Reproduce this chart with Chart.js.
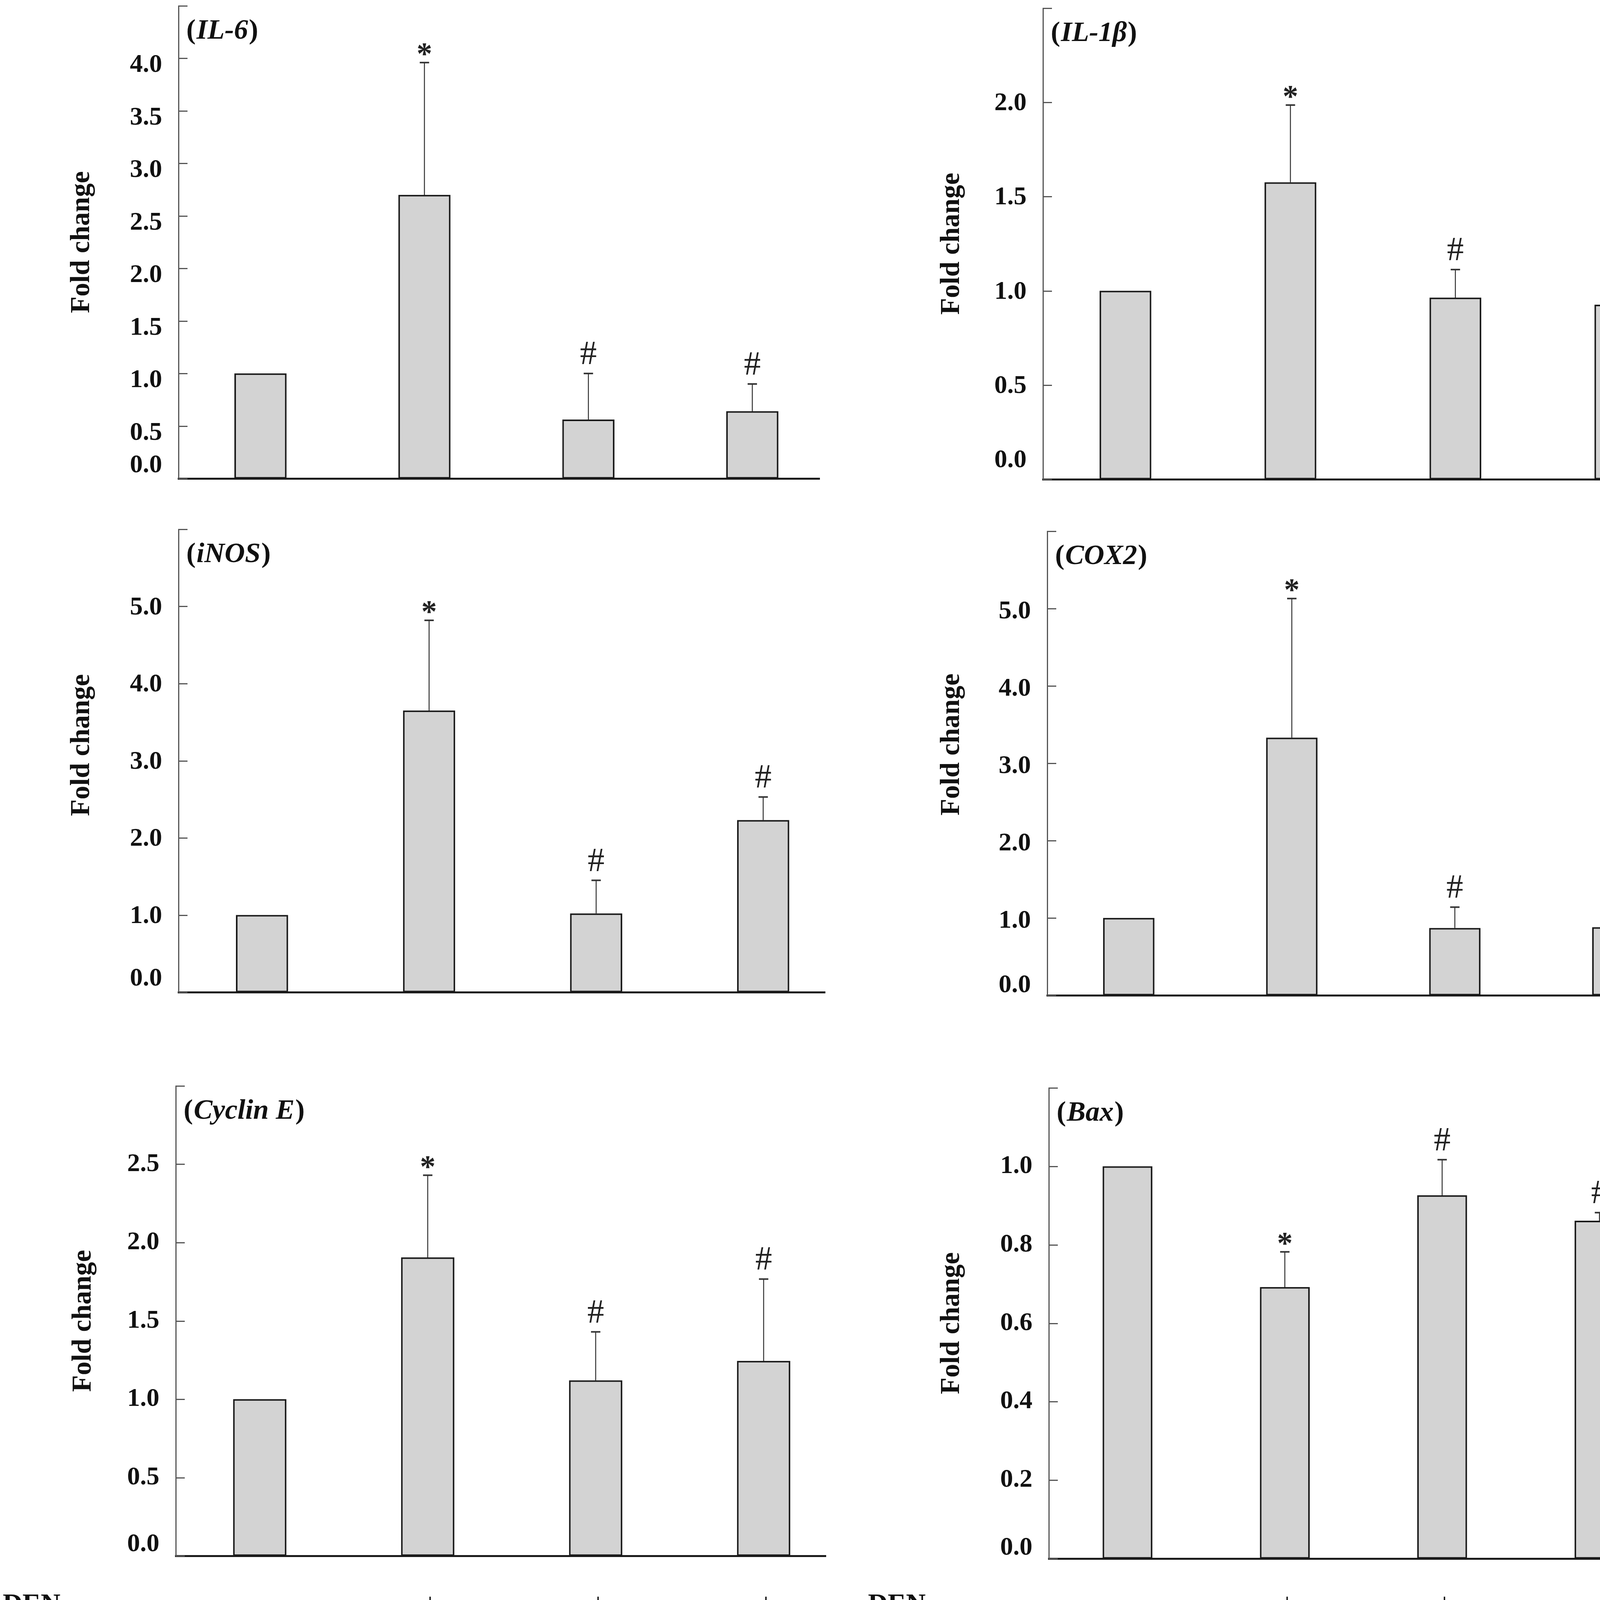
<!DOCTYPE html>
<html><head><meta charset="utf-8">
<script src="https://cdn.jsdelivr.net/npm/chart.js@4.4.1/dist/chart.umd.min.js"></script>
<style>
html,body{margin:0;padding:0;background:#fff;}
#wrap{position:relative;width:4317px;height:4628px;overflow:hidden;}
canvas{position:absolute;display:block;}
</style></head><body>
<div id="wrap">
<canvas id="c1"></canvas><canvas id="c2"></canvas>
<canvas id="c3"></canvas><canvas id="c4"></canvas>
<canvas id="c5"></canvas><canvas id="c6"></canvas>
</div>
<script>
// ---- data ----
const categories = ['Control', 'DEN', 'DEN + CRE', 'DEN + RRE'];
const il6Mean     = [1.00, 2.70, 0.56, 0.64];
const il6Upper    = [null, 3.96, 1.00, 0.90];
const il1bMean    = [1.00, 1.576, 0.964, 0.926];
const il1bUpper   = [null, 1.986, 1.113, 0.986];
const inosMean    = [1.00, 3.65, 1.02, 2.23];
const inosUpper   = [null, 4.82, 1.45, 2.53];
const cox2Mean    = [1.00, 3.33, 0.87, 0.88];
const cox2Upper   = [null, 5.13, 1.14, 1.17];
const cyclinEMean = [1.00, 1.905, 1.12, 1.244];
const cyclinEUpper= [null, 2.43, 1.43, 1.767];
const baxMean     = [1.00, 0.692, 0.926, 0.861];
const baxUpper    = [null, 0.782, 1.017, 0.882];
const sigMarks    = ['', '*', '#', '#'];
const denRow = ['\u2013', '+', '+', '+'];
const creRow = ['\u2013', '\u2013', '500', '\u2013'];
const rreRow = ['\u2013', '\u2013', '\u2013', '500'];
const tableRows = [
  {label: ['DEN'], vals: denRow},
  {label: ['CRE', '(mg/kg BW)'], vals: creRow},
  {label: ['RRE', '(mg/kg BW)'], vals: rreRow}
];

// ---- layout / style ----
const FONT = '"Liberation Serif", "Times New Roman", serif';
const tableBaselines = [[4128], [4306, 4398], [4523, 4615]];
const panels = [
  {id:'c1', gene:'IL-6', mean:il6Mean, upper:il6Upper, max:4.5, step:0.5, xMax:3.41, barW:133,
   box:{x:0,y:0,w:2158,h:1300}, pad:{left:457,top:15,right:60,bottom:75},
   labelShift:18, zeroShift:-33, ylabDy:0, labelX:228},
  {id:'c2', gene:'IL-1\u03b2', mean:il1bMean, upper:il1bUpper, max:2.5, step:0.5, xMax:3.40, barW:132,
   box:{x:2158,y:0,w:2159,h:1300}, pad:{left:512,top:21,right:0,bottom:73},
   labelShift:3, zeroShift:-48, ylabDy:0, labelX:297},
  {id:'c3', gene:'iNOS', mean:inosMean, upper:inosUpper, max:6, step:1, xMax:3.37, barW:133,
   box:{x:0,y:1300,w:2158,h:1300}, pad:{left:457,top:55,right:46,bottom:60},
   labelShift:3, zeroShift:-34, ylabDy:-40, labelX:228},
  {id:'c4', gene:'COX2', mean:cox2Mean, upper:cox2Upper, max:6, step:1, xMax:3.42, barW:131,
   box:{x:2158,y:1300,w:2159,h:1300}, pad:{left:523,top:60,right:0,bottom:52},
   labelShift:8, zeroShift:-25, ylabDy:-48, labelX:297},
  {id:'c5', gene:'Cyclin E', mean:cyclinEMean, upper:cyclinEUpper, max:3.0, step:0.5, xMax:3.37, barW:136,
   box:{x:0,y:2600,w:2158,h:2028}, pad:{left:450,top:180,right:44,bottom:645},
   labelShift:0, zeroShift:-29, ylabDy:0, labelX:232, table:true, tableLabelX:7},
  {id:'c6', gene:'Bax', mean:baxMean, upper:baxUpper, max:1.2, step:0.2, xMax:3.49, barW:127,
   box:{x:2158,y:2600,w:2159,h:2028}, pad:{left:527,top:185,right:25,bottom:638},
   labelShift:0, zeroShift:-27, ylabDy:0, labelX:297, table:true, tableLabelX:64}
];

function makeDecor(P) {
  return {
    id: 'decor_' + P.id,
    afterDraw(chart) {
      const ctx = chart.ctx, ys = chart.scales.y, ca = chart.chartArea;
      ctx.save();
      // inward tick marks
      ctx.strokeStyle = '#555'; ctx.lineWidth = 3;
      ys.ticks.forEach(t => {
        const y = Math.round(ys.getPixelForValue(t.value)) + 0.5;
        ctx.beginPath(); ctx.moveTo(ca.left, y); ctx.lineTo(ca.left + 23, y); ctx.stroke();
      });
      // tick labels
      ctx.fillStyle = '#111';
      ctx.font = 'bold 66px ' + FONT;
      ctx.textAlign = 'right'; ctx.textBaseline = 'middle';
      ys.ticks.forEach(t => {
        if (Math.abs(t.value - P.max) < 1e-6) return;
        let y = ys.getPixelForValue(t.value);
        y += (Math.abs(t.value) < 1e-9) ? P.zeroShift : P.labelShift;
        ctx.fillText(t.value.toFixed(1), ca.left - 42, y);
      });
      // y axis title
      ctx.save();
      ctx.translate(P.labelX, (ca.top + ca.bottom) / 2 + P.ylabDy);
      ctx.rotate(-Math.PI / 2);
      ctx.textAlign = 'center'; ctx.textBaseline = 'alphabetic';
      ctx.font = 'bold 70px ' + FONT;
      ctx.fillText('Fold change', 0, 0);
      ctx.restore();
      // panel title (gene)
      let tx = ca.left + 20; const ty = ca.top + 84;
      ctx.textAlign = 'left'; ctx.textBaseline = 'alphabetic';
      [['(', 'bold 72px '], [P.gene, 'italic bold 72px '], [')', 'bold 72px ']].forEach(([s, f]) => {
        ctx.font = f + FONT; ctx.fillText(s, tx, ty); tx += ctx.measureText(s).width + 2;
      });
      // error bars and significance marks
      const meta = chart.getDatasetMeta(0);
      meta.data.forEach((el, i) => {
        const up = P.upper[i];
        if (up == null) return;
        const yTop = ys.getPixelForValue(up);
        ctx.strokeStyle = '#333'; ctx.lineWidth = 2.5;
        ctx.beginPath(); ctx.moveTo(el.x, el.y); ctx.lineTo(el.x, yTop); ctx.stroke();
        ctx.lineWidth = 4;
        ctx.beginPath(); ctx.moveTo(el.x - 12, yTop); ctx.lineTo(el.x + 12, yTop); ctx.stroke();
        const m = sigMarks[i];
        ctx.fillStyle = '#222'; ctx.textAlign = 'center'; ctx.textBaseline = 'alphabetic';
        if (m === '*') { ctx.font = 'bold 80px ' + FONT; ctx.fillText(m, el.x, yTop + 4); }
        else if (m === '#') { ctx.font = '86px ' + FONT; ctx.fillText(m, el.x, yTop - 24); }
      });
      // treatment table
      if (P.table) {
        ctx.fillStyle = '#111';
        tableRows.forEach((row, r) => {
          const bl = tableBaselines[r];
          ctx.textAlign = 'left';
          ctx.font = 'bold 70px ' + FONT;
          row.label.forEach((s, k) => ctx.fillText(s, P.tableLabelX, bl[k] - P.box.y));
          ctx.textAlign = 'center';
          row.vals.forEach((v, i) => {
            ctx.font = (v === '+' ? '72px ' : 'bold 70px ') + FONT;
            ctx.fillText(v, meta.data[i].x + 6, bl[0] - P.box.y);
          });
        });
      }
      ctx.restore();
    }
  };
}

panels.forEach(P => {
  const cv = document.getElementById(P.id);
  cv.width = P.box.w; cv.height = P.box.h;
  cv.style.left = P.box.x + 'px'; cv.style.top = P.box.y + 'px';
  cv.style.width = P.box.w + 'px'; cv.style.height = P.box.h + 'px';
  new Chart(cv, {
    type: 'bar',
    data: {
      labels: categories,
      datasets: [{
        data: P.mean.map((v, i) => ({x: i, y: v})),
        backgroundColor: '#d3d3d3',
        borderColor: '#1a1a1a',
        borderWidth: 4,
        borderSkipped: false,
        barThickness: P.barW
      }]
    },
    options: {
      responsive: false,
      animation: false,
      devicePixelRatio: 1,
      layout: {padding: P.pad},
      plugins: {legend: {display: false}, tooltip: {enabled: false}, title: {display: false}},
      scales: {
        x: {
          type: 'linear',
          min: -0.5, max: P.xMax,
          offset: false,
          grid: {display: false, drawTicks: false, offset: false},
          ticks: {display: false},
          border: {display: true, color: '#1a1a1a', width: 5},
          afterFit: s => { s.height = 0; }
        },
        y: {
          min: 0, max: P.max,
          ticks: {display: false, stepSize: P.step},
          grid: {display: false, drawTicks: false},
          border: {display: true, color: '#555', width: 3},
          afterFit: s => { s.width = 0; }
        }
      }
    },
    plugins: [makeDecor(P)]
  });
});
</script>
</body></html>
